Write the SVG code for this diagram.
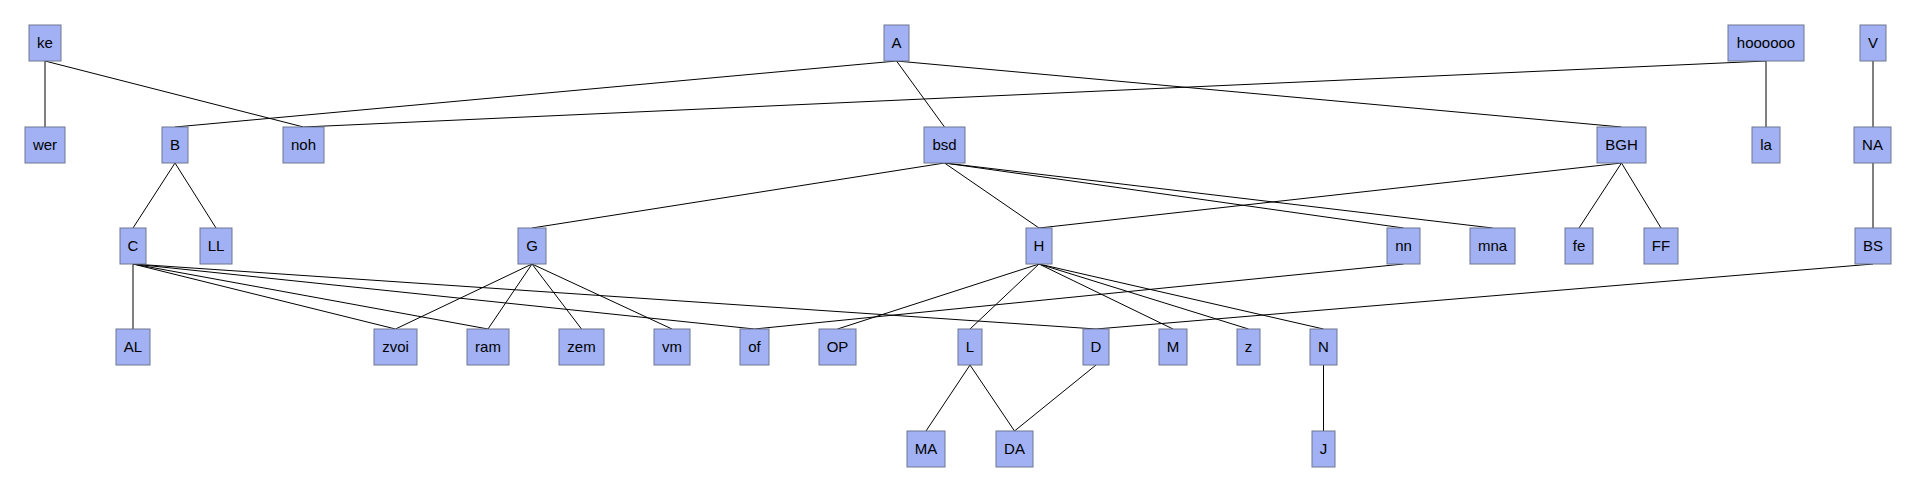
<svg xmlns="http://www.w3.org/2000/svg" width="1916" height="492" viewBox="0 0 1916 492">
<style>
.n rect{fill:#a1b1f4;stroke:#6f7690;stroke-width:1}
.n text{font-family:"Liberation Sans",Arial,sans-serif;font-size:15px;fill:#000;text-anchor:middle}
#edges line{stroke:#000;stroke-width:1}
</style>
<rect width="1916" height="492" fill="#fff"/>
<g id="edges">
<line x1="45" y1="61" x2="45" y2="127"/>
<line x1="45" y1="61" x2="303.5" y2="127"/>
<line x1="896.5" y1="61" x2="175" y2="127"/>
<line x1="896.5" y1="61" x2="944.5" y2="127"/>
<line x1="896.5" y1="61" x2="1621.5" y2="127"/>
<line x1="1766" y1="61" x2="303.5" y2="127"/>
<line x1="1766" y1="61" x2="1766" y2="127"/>
<line x1="1873" y1="61" x2="1873" y2="127"/>
<line x1="175" y1="163" x2="133" y2="228"/>
<line x1="175" y1="163" x2="216" y2="228"/>
<line x1="944.5" y1="163" x2="532" y2="228"/>
<line x1="944.5" y1="163" x2="1039" y2="228"/>
<line x1="944.5" y1="163" x2="1403.5" y2="228"/>
<line x1="944.5" y1="163" x2="1492.5" y2="228"/>
<line x1="1621.5" y1="163" x2="1039" y2="228"/>
<line x1="1621.5" y1="163" x2="1579" y2="228"/>
<line x1="1621.5" y1="163" x2="1661" y2="228"/>
<line x1="1873" y1="163" x2="1873" y2="228"/>
<line x1="133" y1="264" x2="133" y2="329"/>
<line x1="133" y1="264" x2="395.5" y2="329"/>
<line x1="133" y1="264" x2="488" y2="329"/>
<line x1="133" y1="264" x2="754.5" y2="329"/>
<line x1="133" y1="264" x2="1096" y2="329"/>
<line x1="532" y1="264" x2="395.5" y2="329"/>
<line x1="532" y1="264" x2="488" y2="329"/>
<line x1="532" y1="264" x2="581.5" y2="329"/>
<line x1="532" y1="264" x2="672" y2="329"/>
<line x1="1403.5" y1="264" x2="754.5" y2="329"/>
<line x1="1039" y1="264" x2="837.5" y2="329"/>
<line x1="1039" y1="264" x2="970" y2="329"/>
<line x1="1039" y1="264" x2="1173" y2="329"/>
<line x1="1039" y1="264" x2="1248.5" y2="329"/>
<line x1="1039" y1="264" x2="1323.5" y2="329"/>
<line x1="1873" y1="264" x2="1096" y2="329"/>
<line x1="970" y1="365" x2="926" y2="431"/>
<line x1="970" y1="365" x2="1014.5" y2="431"/>
<line x1="1096" y1="365" x2="1014.5" y2="431"/>
<line x1="1323.5" y1="365" x2="1323.5" y2="431"/>
</g>
<g id="n-ke" class="n"><rect x="29" y="25" width="32" height="36"/><text x="45" y="48">ke</text></g>
<g id="n-A" class="n"><rect x="884" y="25" width="25" height="36"/><text x="896.5" y="48">A</text></g>
<g id="n-hoooooo" class="n"><rect x="1728" y="25" width="76" height="36"/><text x="1766" y="48">hoooooo</text></g>
<g id="n-V" class="n"><rect x="1860" y="25" width="26" height="36"/><text x="1873" y="48">V</text></g>
<g id="n-wer" class="n"><rect x="25" y="127" width="40" height="36"/><text x="45" y="150">wer</text></g>
<g id="n-B" class="n"><rect x="162" y="127" width="26" height="36"/><text x="175" y="150">B</text></g>
<g id="n-noh" class="n"><rect x="283" y="127" width="41" height="36"/><text x="303.5" y="150">noh</text></g>
<g id="n-bsd" class="n"><rect x="924" y="127" width="41" height="36"/><text x="944.5" y="150">bsd</text></g>
<g id="n-BGH" class="n"><rect x="1597" y="127" width="49" height="36"/><text x="1621.5" y="150">BGH</text></g>
<g id="n-la" class="n"><rect x="1752" y="127" width="28" height="36"/><text x="1766" y="150">la</text></g>
<g id="n-NA" class="n"><rect x="1854" y="127" width="37" height="36"/><text x="1872.5" y="150">NA</text></g>
<g id="n-C" class="n"><rect x="120" y="228" width="26" height="36"/><text x="133" y="251">C</text></g>
<g id="n-LL" class="n"><rect x="200" y="228" width="32" height="36"/><text x="216" y="251">LL</text></g>
<g id="n-G" class="n"><rect x="518" y="228" width="28" height="36"/><text x="532" y="251">G</text></g>
<g id="n-H" class="n"><rect x="1026" y="228" width="26" height="36"/><text x="1039" y="251">H</text></g>
<g id="n-nn" class="n"><rect x="1387" y="228" width="33" height="36"/><text x="1403.5" y="251">nn</text></g>
<g id="n-mna" class="n"><rect x="1470" y="228" width="45" height="36"/><text x="1492.5" y="251">mna</text></g>
<g id="n-fe" class="n"><rect x="1565" y="228" width="28" height="36"/><text x="1579" y="251">fe</text></g>
<g id="n-FF" class="n"><rect x="1644" y="228" width="34" height="36"/><text x="1661" y="251">FF</text></g>
<g id="n-BS" class="n"><rect x="1855" y="228" width="36" height="36"/><text x="1873" y="251">BS</text></g>
<g id="n-AL" class="n"><rect x="116" y="329" width="34" height="36"/><text x="133" y="352">AL</text></g>
<g id="n-zvoi" class="n"><rect x="374" y="329" width="43" height="36"/><text x="395.5" y="352">zvoi</text></g>
<g id="n-ram" class="n"><rect x="467" y="329" width="42" height="36"/><text x="488" y="352">ram</text></g>
<g id="n-zem" class="n"><rect x="559" y="329" width="45" height="36"/><text x="581.5" y="352">zem</text></g>
<g id="n-vm" class="n"><rect x="654" y="329" width="36" height="36"/><text x="672" y="352">vm</text></g>
<g id="n-of" class="n"><rect x="740" y="329" width="29" height="36"/><text x="754.5" y="352">of</text></g>
<g id="n-OP" class="n"><rect x="819" y="329" width="37" height="36"/><text x="837.5" y="352">OP</text></g>
<g id="n-L" class="n"><rect x="958" y="329" width="24" height="36"/><text x="970" y="352">L</text></g>
<g id="n-D" class="n"><rect x="1083" y="329" width="26" height="36"/><text x="1096" y="352">D</text></g>
<g id="n-M" class="n"><rect x="1159" y="329" width="28" height="36"/><text x="1173" y="352">M</text></g>
<g id="n-z" class="n"><rect x="1237" y="329" width="23" height="36"/><text x="1248.5" y="352">z</text></g>
<g id="n-N" class="n"><rect x="1310" y="329" width="27" height="36"/><text x="1323.5" y="352">N</text></g>
<g id="n-MA" class="n"><rect x="907" y="431" width="38" height="36"/><text x="926" y="454">MA</text></g>
<g id="n-DA" class="n"><rect x="996" y="431" width="37" height="36"/><text x="1014.5" y="454">DA</text></g>
<g id="n-J" class="n"><rect x="1312" y="431" width="23" height="36"/><text x="1323.5" y="454">J</text></g>
</svg>
